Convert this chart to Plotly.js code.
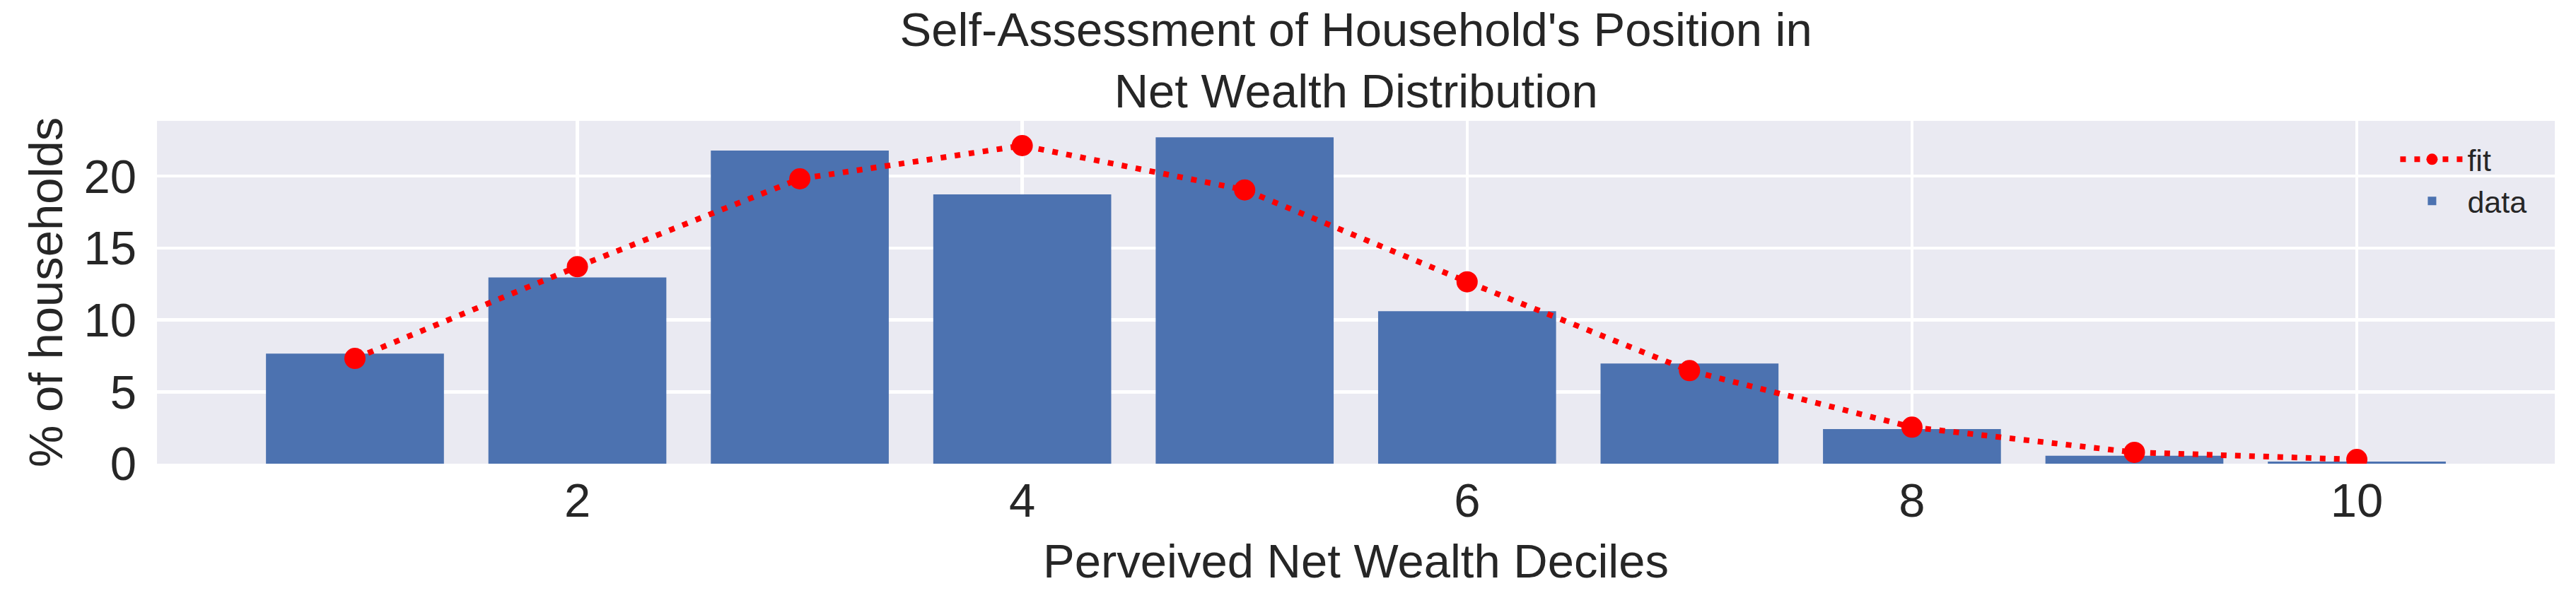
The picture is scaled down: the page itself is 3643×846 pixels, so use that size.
<!DOCTYPE html>
<html>
<head>
<meta charset="utf-8">
<script src="https://cdn.plot.ly/plotly-3.0.1.min.js"></script>
<style>
  html, body { margin: 0; padding: 0; background: #ffffff; }
  #chart { width: 3643px; height: 846px; }
</style>
</head>
<body>
<div id="chart"></div>
<script>
// Perceived net wealth deciles
const deciles = [1, 2, 3, 4, 5, 6, 7, 8, 9, 10];
// Observed share of households (%)
const dataValues = [7.66, 12.95, 21.77, 18.73, 22.70, 10.60, 6.97, 2.41, 0.55, 0.15];
// Fitted distribution (%)
const fitValues = [7.32, 13.70, 19.81, 22.12, 19.04, 12.65, 6.47, 2.54, 0.79, 0.29];
// Axis ticks
const xTicks = [2, 4, 6, 8, 10];
const yTicks = [0, 5, 10, 15, 20];

const FONT = '"Liberation Sans", Arial, Helvetica, sans-serif';
const TXT = '#262626';

const traces = [
  {
    type: 'bar',
    name: 'data',
    x: deciles,
    y: dataValues,
    width: 0.8,
    marker: { color: '#4C72B0', line: { width: 0 } }
  },
  {
    type: 'scatter',
    mode: 'lines+markers',
    name: 'fit',
    x: deciles,
    y: fitValues,
    line: { color: '#FF0000', width: 8, dash: '8px,12px' },
    marker: { color: '#FF0000', size: 30 }
  }
];

const layout = {
  width: 3643,
  height: 846,
  margin: { l: 222, r: 30, t: 171, b: 190 },
  paper_bgcolor: '#ffffff',
  plot_bgcolor: '#EAEAF2',
  font: { family: FONT, color: TXT, size: 67 },
  title: {
    text: "Self-Assessment of Household's Position in<br>Net Wealth Distribution",
    font: { family: FONT, size: 67, color: TXT },
    x: 0.5264,
    xanchor: 'center',
    xref: 'container',
    y: 0.9235,
    yanchor: 'top',
    yref: 'container'
  },
  xaxis: {
    range: [0.11, 10.89],
    tickmode: 'array',
    tickvals: xTicks,
    ticktext: xTicks.map(String),
    showgrid: true,
    gridcolor: '#ffffff',
    gridwidth: 4.5,
    zeroline: false,
    showline: false,
    ticks: '',
    ticklabelstandoff: 7,
    tickfont: { family: FONT, size: 67, color: TXT },
    title: { text: 'Perveived Net Wealth Deciles', font: { family: FONT, size: 67, color: TXT }, standoff: 26 },
    automargin: false
  },
  yaxis: {
    range: [0, 23.84],
    tickmode: 'array',
    tickvals: yTicks,
    ticktext: yTicks.map(String),
    showgrid: true,
    gridcolor: '#ffffff',
    gridwidth: 4.5,
    zeroline: false,
    showline: false,
    ticks: '',
    ticklabelstandoff: 28,
    tickfont: { family: FONT, size: 67, color: TXT },
    title: { text: '% of households', font: { family: FONT, size: 67, color: TXT }, standoff: 8 },
    automargin: false
  },
  showlegend: true,
  legend: {
    x: 0.9898,
    xanchor: 'right',
    y: 0.959,
    yanchor: 'top',
    bgcolor: 'rgba(0,0,0,0)',
    borderwidth: 0,
    traceorder: 'reversed',
    itemwidth: 90,
    font: { family: FONT, size: 43, color: TXT }
  },
  bargap: 0.2
};

Plotly.newPlot('chart', traces, layout, { displayModeBar: false, staticPlot: true });
</script>
</body>
</html>
